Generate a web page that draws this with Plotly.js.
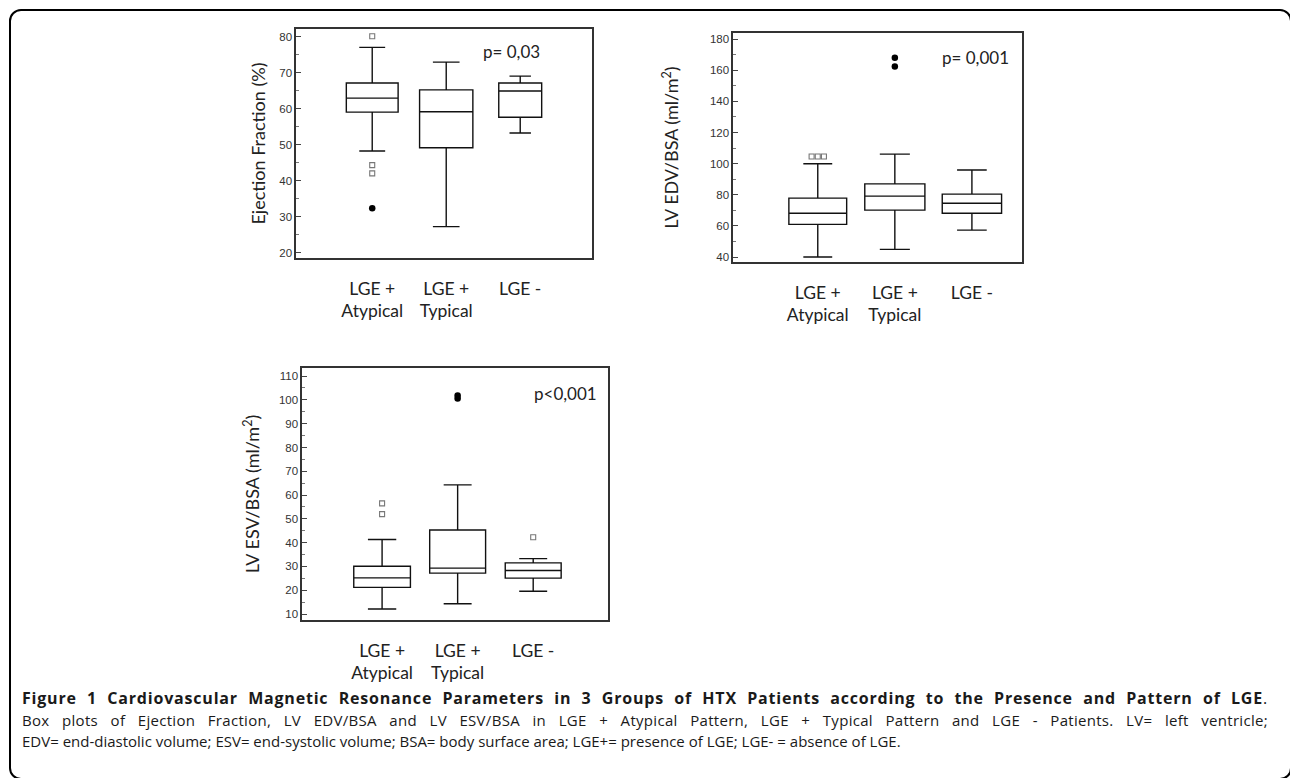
<!DOCTYPE html>
<html>
<head>
<meta charset="utf-8">
<script src="https://cdn.plot.ly/plotly-3.0.1.min.js"></script>
<style>
  html, body { margin: 0; padding: 0; background: #fff; overflow: hidden; }
  #wrap { position: relative; width: 1290px; height: 778px; overflow: hidden; }
  #frame { position: absolute; left: 9px; top: 9px; width: 1283px; height: 771px;
           border: 2px solid #000; border-radius: 12px; box-sizing: border-box; }
  #plot { position: absolute; left: 0; top: 0; width: 1290px; height: 778px; }
  #caption { position: absolute; left: 22px; top: 688px; width: 1246px;
             font-family: "Open Sans", sans-serif; font-size: 15px; color: #1a1a1a; line-height: 21.5px; }
  #caption .j { text-align: justify; text-align-last: justify; white-space: nowrap; }
  #caption .l { text-align: left; white-space: nowrap; }
  #cap1 { font-size: 16px; letter-spacing: 0.8px; }
  #cap2 { letter-spacing: 0.3px; }
</style>
</head>
<body>
<div id="wrap">
  <div id="frame"></div>
  <div id="plot"></div>
  <div id="caption">
    <div class="j" id="cap1"></div>
    <div class="j" id="cap2"></div>
    <div class="l" id="cap3"></div>
  </div>
</div>
<script>
// ---------------- DATA ----------------
const groups = ["LGE +<br>Atypical", "LGE +<br>Typical", "LGE -"];

// Ejection Fraction (%)
const efLower  = [48.3, 27.3, 53.3];
const efQ1     = [59.1, 49.2, 57.7];
const efMedian = [63.0, 59.2, 65.0];
const efQ3     = [67.2, 65.3, 67.2];
const efUpper  = [77.1, 73.0, 69.1];
const efOutliers    = [[80.2, 44.4, 42.1], [], []];
const efFarOutliers = [[32.4], [], []];

// LV EDV/BSA (ml/m2)
const edvLower  = [40.0, 44.9, 57.3];
const edvQ1     = [61.0, 70.1, 68.1];
const edvMedian = [68.1, 79.1, 74.5];
const edvQ3     = [77.8, 87.0, 80.4];
const edvUpper  = [99.9, 106.1, 95.9];
const edvOutliers    = [[104.6, 104.6, 104.6], [], []];
const edvFarOutliers = [[], [168.0, 162.4], []];

// LV ESV/BSA (ml/m2)
const esvLower  = [12.1, 14.3, 19.6];
const esvQ1     = [21.2, 27.2, 25.1];
const esvMedian = [25.2, 29.3, 28.3];
const esvQ3     = [30.1, 45.3, 31.5];
const esvUpper  = [41.3, 64.3, 33.3];
const esvOutliers    = [[56.5, 52.0], [], [42.3]];
const esvFarOutliers = [[], [101.8, 100.6], []];

const yTitles = ["Ejection Fraction (%)", "LV EDV/BSA (ml/m<sup>2</sup>)", "LV ESV/BSA (ml/m<sup>2</sup>)"];
const pLabels = ["p= 0,03", "p= 0,001", "p&lt;0,001"];

const captionTitle = "Figure 1 Cardiovascular Magnetic Resonance Parameters in 3 Groups of HTX Patients according to the Presence and Pattern of LGE";
const captionLine2 = "Box plots of Ejection Fraction, LV EDV/BSA and LV ESV/BSA in LGE + Atypical Pattern, LGE + Typical Pattern and LGE - Patients. LV= left ventricle;";
const captionLine3 = "EDV= end-diastolic volume; ESV= end-systolic volume; BSA= body surface area; LGE+= presence of LGE; LGE- = absence of LGE.";

// ---------------- LAYOUT / STYLE ----------------
const W = 1290, H = 778;
const panels = [
  { stats: [efLower, efQ1, efMedian, efQ3, efUpper], out: efOutliers, far: efFarOutliers,
    px: [296, 592], py: [29, 258], yr: [18.6, 82.2], xr: [-1.03, 2.97], dtick: 10, minor: 5,
    widths: [0.70, 0.72, 0.58], standoff: 9, p: [511, 52] },
  { stats: [edvLower, edvQ1, edvMedian, edvQ3, edvUpper], out: edvOutliers, far: edvFarOutliers,
    px: [733, 1022], py: [33, 262], yr: [36.8, 183.9], xr: [-1.10, 2.65], dtick: 20, minor: 10,
    widths: [0.75, 0.78, 0.77], standoff: 26, p: [975, 57] },
  { stats: [esvLower, esvQ1, esvMedian, esvQ3, esvUpper], out: esvOutliers, far: esvFarOutliers,
    px: [302, 608], py: [368, 620], yr: [7.5, 113.4], xr: [-1.06, 2.99], dtick: 10, minor: 5,
    widths: [0.75, 0.74, 0.74], standoff: 14, p: [565, 393] }
];

const traces = [];
const layout = {
  width: W, height: H, margin: {l: 0, r: 0, t: 0, b: 0},
  paper_bgcolor: "rgba(0,0,0,0)", plot_bgcolor: "#fff",
  showlegend: false, annotations: []
};

// spread tied outlier values horizontally (display only)
function spread(vals, gi) {
  const xs = [], counts = {};
  vals.forEach(v => { counts[v] = (counts[v] || 0) + 1; });
  const seen = {};
  vals.forEach(v => {
    const n = counts[v]; seen[v] = (seen[v] || 0);
    const off = n > 1 ? (seen[v] - (n - 1) / 2) * 0.08 : 0;
    seen[v]++;
    xs.push(gi + off);
  });
  return xs;
}

panels.forEach((P, k) => {
  const xa = k === 0 ? "x" : "x" + (k + 1);
  const ya = k === 0 ? "y" : "y" + (k + 1);
  const [lo, q1, md, q3, up] = P.stats;
  groups.forEach((g, i) => {
    traces.push({
      type: "box", xaxis: xa, yaxis: ya, x: [i],
      lowerfence: [lo[i]], q1: [q1[i]], median: [md[i]], q3: [q3[i]], upperfence: [up[i]],
      boxpoints: false, width: P.widths[i], whiskerwidth: 0.5,
      line: {color: "#111", width: 1.4}, fillcolor: "#fff", hoverinfo: "y"
    });
    if (P.out[i].length) {
      traces.push({
        type: "scatter", mode: "markers", xaxis: xa, yaxis: ya,
        x: spread(P.out[i], i), y: P.out[i],
        marker: {symbol: "square-open", size: 5, color: "#777", line: {width: 1.1, color: "#777"}}
      });
    }
    if (P.far[i].length) {
      traces.push({
        type: "scatter", mode: "markers", xaxis: xa, yaxis: ya,
        x: spread(P.far[i], i), y: P.far[i],
        marker: {symbol: "circle", size: 6.5, color: "#000"}
      });
    }
  });
  const xKey = k === 0 ? "xaxis" : "xaxis" + (k + 1);
  const yKey = k === 0 ? "yaxis" : "yaxis" + (k + 1);
  layout[xKey] = {
    domain: [P.px[0] / W, P.px[1] / W], anchor: ya, range: P.xr,
    tickmode: "array", tickvals: groups.map((g, i) => i), ticktext: groups,
    ticks: "", showgrid: false, zeroline: false, showline: true, mirror: true,
    linecolor: "#333", linewidth: 1.6, ticklabelstandoff: 14,
    tickfont: {family: "Lato, sans-serif", size: 17.5, color: "#222"}, fixedrange: true
  };
  layout[yKey] = {
    domain: [1 - P.py[1] / H, 1 - P.py[0] / H], anchor: xa, range: P.yr,
    dtick: P.dtick, tick0: 0, ticks: "inside", ticklen: 5, tickcolor: "#444", tickwidth: 1,
    minor: {dtick: P.minor, ticks: "inside", ticklen: 3, tickcolor: "#777", showgrid: false},
    showgrid: false, zeroline: false, showline: true, mirror: true,
    linecolor: "#333", linewidth: 1.6,
    tickfont: {family: "Liberation Sans, Arial, sans-serif", size: 11.5, color: "#333"},
    title: {text: yTitles[k], standoff: P.standoff,
            font: {family: "Lato, sans-serif", size: 18, color: "#222"}},
    fixedrange: true
  };
  layout.annotations.push({
    xref: "paper", yref: "paper", x: P.p[0] / W, y: 1 - P.p[1] / H,
    xanchor: "center", yanchor: "middle", showarrow: false, text: pLabels[k],
    font: {family: "Lato, sans-serif", size: 17, color: "#222"}
  });
});

Plotly.newPlot("plot", traces, layout, {displayModeBar: false, staticPlot: true});

document.getElementById("cap1").innerHTML = "<b>" + captionTitle + "</b>.";
document.getElementById("cap2").textContent = captionLine2;
document.getElementById("cap3").textContent = captionLine3;
</script>
</body>
</html>
